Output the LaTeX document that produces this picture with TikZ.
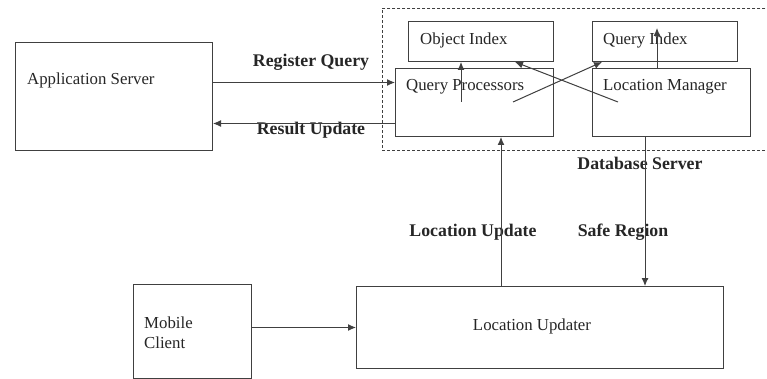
\documentclass[tikz,border=0pt]{standalone}
\usepackage{fontspec}
\setmainfont{Liberation Serif}
\usetikzlibrary{arrows.meta}
\begin{document}
\begin{tikzpicture}[x=1pt,y=-1pt,
  box/.style={draw=black!75, line width=1pt, rectangle, inner sep=0pt, anchor=north west},
  group/.style={draw=black!75, line width=0.9pt, dash pattern=on 3pt off 2pt, rectangle, inner sep=0pt, anchor=north west},
  txt/.style={text=black!85, inner sep=0pt, font=\fontsize{16.8}{20}\selectfont},
  lbl/.style={text=black!85, inner sep=0pt, font=\fontsize{17.8}{20}\selectfont\bfseries},
  arr/.style={draw=black!75, line width=1pt, -{Latex[length=8pt,width=7pt]}}]
\fill[white] (0,0) rectangle (767,379);
\useasboundingbox (0,0) rectangle (767,379);

% database server group (runs past the right edge)
\node[group, minimum width=393pt, minimum height=142pt] (dbs) at (382,8) {};

% boxes
\node[box, minimum width=197pt, minimum height=108pt] (app) at (15,42) {};
\node[box, minimum width=145pt, minimum height=40pt] (objidx) at (408,21) {};
\node[box, minimum width=145pt, minimum height=40pt] (qidx) at (592,21) {};
\node[box, minimum width=158pt, minimum height=68pt] (qp) at (395,68) {};
\node[box, minimum width=158pt, minimum height=68pt] (lm) at (592,68) {};
\node[box, minimum width=367pt, minimum height=82pt] (lu) at (356,286) {};
\node[box, minimum width=118pt, minimum height=94pt] (mc) at (133,284) {};

% box texts
\node[txt, anchor=west] (tapp) at (27,80) {Application Server};
\node[txt, anchor=west] (tobj) at (420,40) {Object Index};
\node[txt, anchor=west] (tqi) at (603,40) {Query Index};
\node[txt, anchor=west] (tqp) at (406,87) {Query Processors};
\node[txt, anchor=west] (tlm) at (603,87) {Location Manager};
\node[txt] (tlu) at (532,326) {Location Updater};
\node[txt, anchor=west, align=left] (tmc) at (144,333) {Mobile\\Client};

% connector labels
\node[lbl] (lrq) at (311,62) {Register Query};
\node[lbl] (lru) at (311,130) {Result Update};
\node[lbl] (ldb) at (640,163) {Database Server};
\node[lbl] (llu) at (473,232) {Location Update};
\node[lbl] (lsr) at (623,232) {Safe Region};

% free ends inside the database server
\coordinate (qpa) at (461,102);
\coordinate (qpx) at (513,102);
\coordinate (lmx) at (618,102);
\coordinate (qit) at (657,28);

% application server <-> query processors
\draw[arr] ([yshift=14pt]app.east) -- ([yshift=14pt]app.east -| qp.west);
\draw[arr] ([yshift=-27pt]app.east -| qp.west) -- ([yshift=-27pt]app.east);

% inside the database server
\draw[arr] (qpa) -- (qpa |- objidx.south);
\draw[arr] (qit |- lm.north) -- (qit);
\draw[arr] (qpx) -- ([xshift=10pt]qidx.south west);
\draw[arr] (lmx) -- ([xshift=107pt]objidx.south west);

% location updater <-> database server
\draw[arr] ([xshift=145pt]lu.north west) -- ([xshift=106pt]qp.south west);
\draw[arr] ([xshift=53pt]lm.south west) -- ([xshift=289pt]lu.north west);

% mobile client -> location updater
\draw[arr] ([yshift=4pt]mc.east) -- ([yshift=4pt]mc.east -| lu.west);
\end{tikzpicture}
\end{document}
